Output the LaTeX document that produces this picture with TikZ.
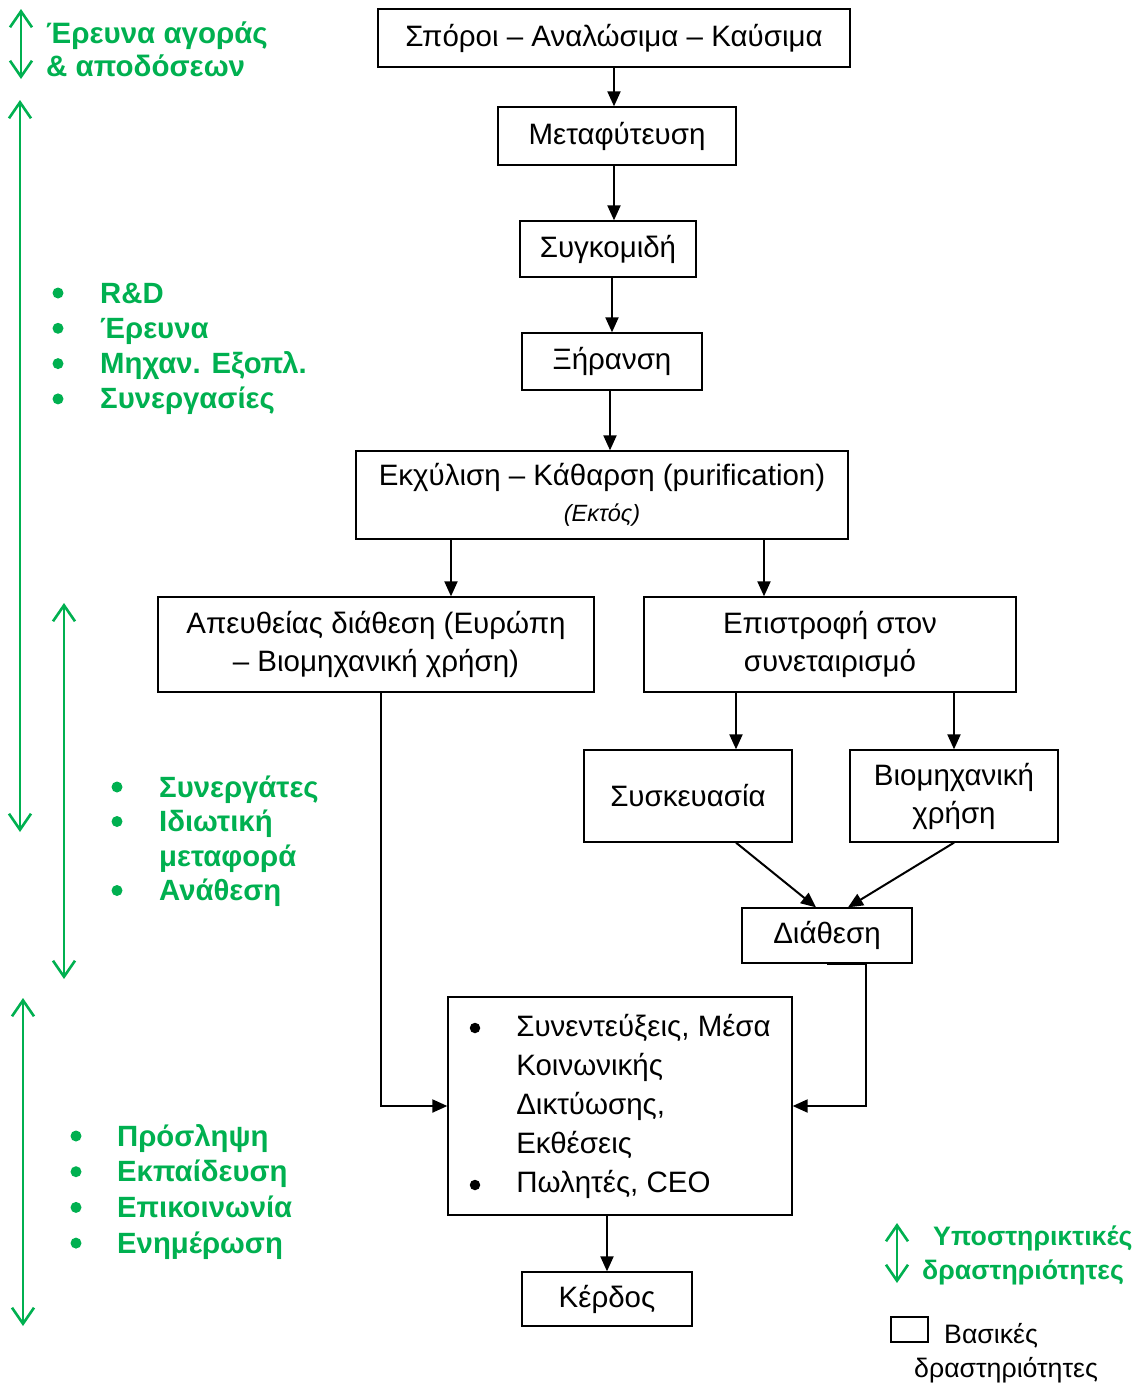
\documentclass[tikz,border=0pt]{standalone}
\usepackage{fontspec}
\setmainfont{Liberation Sans}
\usetikzlibrary{arrows.meta,calc}
\definecolor{grn}{RGB}{0,176,80}
\begin{document}
\begin{tikzpicture}[x=1pt,y=-1pt,
  box/.style={draw, line width=1.3pt, inner sep=0pt, align=center,
              font=\fontsize{29.5}{38}\selectfont},
  arr/.style={line width=2pt, -{Triangle[length=15pt,width=13pt]}},
  garr/.style={draw=grn, line width=2.6pt,
               {Straight Barb[length=16pt,width=22pt]}-{Straight Barb[length=16pt,width=22pt]}},
  gtxt/.style={text=grn, font=\fontsize{29.3}{35}\selectfont\bfseries, anchor=base west, inner sep=0pt},
  gdot/.style={circle, fill=grn, minimum size=11pt, inner sep=0pt},
  kdot/.style={circle, fill=black, minimum size=10.5pt, inner sep=0pt},
  btxt/.style={font=\fontsize{26.7}{35}\selectfont, anchor=base west, inner sep=0pt},
]
\useasboundingbox (0,0) rectangle (1137,1385);

% main chain of activities
\node[box, minimum width=472, minimum height=58] (seeds) at (614,38) {Σπόροι – Αναλώσιμα – Καύσιμα};
\node[box, minimum width=238, minimum height=58] (trans) at (617,136) {Μεταφύτευση};
\node[box, minimum width=176, minimum height=56] (harv) at (608,249) {Συγκομιδή};
\node[box, minimum width=180, minimum height=57] (dry) at (612,361.5) {Ξήρανση};
\node[box, minimum width=492, minimum height=88, font=\fontsize{29.5}{36}\selectfont] (extr) at (602,495)
  {Εκχύλιση – Κάθαρση (purification)\\{\fontsize{23.5}{26}\selectfont\itshape (Εκτός)}};
\node[box, minimum width=436, minimum height=95] (direct) at (376,644.5)
  {Απευθείας διάθεση (Ευρώπη\\– Βιομηχανική χρήση)};
\node[box, minimum width=372, minimum height=95] (ret) at (830,644.5)
  {Επιστροφή στον\\συνεταιρισμό};
\node[box, minimum width=208, minimum height=92] (pack) at (688,796) {Συσκευασία};
\node[box, minimum width=208, minimum height=92] (ind) at (954,796) {Βιομηχανική\\χρήση};
\node[box, minimum width=170, minimum height=55] (disp) at (827,935.5) {Διάθεση};
\node[box, minimum width=344, minimum height=218, align=left, font=\fontsize{29.5}{39}\selectfont] (promo) at (620,1106)
  {\hspace*{47pt}Συνεντεύξεις, Μέσα\\
   \hspace*{47pt}Κοινωνικής\\
   \hspace*{47pt}Δικτύωσης,\\
   \hspace*{47pt}Εκθέσεις\\
   \hspace*{47pt}Πωλητές, CEO};
\node[kdot] (pb1) at (475,1028) {};
\node[kdot] (pb2) at (475,1185) {};
\node[box, minimum width=170, minimum height=54] (profit) at (607,1299) {Κέρδος};

% connectors between activities
\draw[arr] (seeds.south) -- (seeds.south |- trans.north);
\draw[arr] ([xshift=-3pt]trans.south) -- ([xshift=-3pt]trans.south |- harv.north);
\draw[arr] (dry.north |- harv.south) -- (dry.north);
\draw[arr] ([xshift=-2pt]dry.south) -- ([xshift=-2pt]dry.south |- extr.north);
\draw[arr] ([xshift=-151pt]extr.south) -- ([xshift=-151pt]extr.south |- direct.north);
\draw[arr] ([xshift=162pt]extr.south) -- ([xshift=162pt]extr.south |- ret.north);
\draw[arr] ([xshift=-94pt]ret.south) -- ([xshift=-94pt]ret.south |- pack.north);
\draw[arr] (ind.north |- ret.south) -- (ind.north);
\draw[arr] ([xshift=48pt]pack.south) -- ([xshift=-11pt]disp.north);
\draw[arr] (ind.south) -- ([xshift=21pt]disp.north);
\draw[arr] ([xshift=5pt]direct.south) |- (promo.west);
\draw[arr] (disp.south) -- ++(39,0) |- (promo.east);
\draw[arr] ([xshift=-13pt]promo.south) -- ([xshift=-13pt]promo.south |- profit.north);

% support activities (green)
\coordinate (a1t) at (21,9);   \coordinate (a1b) at (21,79);
\coordinate (a2t) at (20,100); \coordinate (a2b) at (20,832);
\coordinate (a3t) at (64,603); \coordinate (a3b) at (64,979);
\coordinate (a4t) at (23,998); \coordinate (a4b) at (23,1326);
\coordinate (a5t) at (897,1223); \coordinate (a5b) at (897,1283);
\draw[garr] (a1t) -- (a1b);
\draw[garr] (a2t) -- (a2b);
\draw[garr] (a3t) -- (a3b);
\draw[garr] (a4t) -- (a4b);
\draw[garr] (a5t) -- (a5b);

\node[gtxt, font=\fontsize{29.5}{33}\selectfont\bfseries] (mr1) at (46,43) {Έρευνα αγοράς};
\node[gtxt, font=\fontsize{29.5}{33}\selectfont\bfseries] (mr2) at (46,76) {\& αποδόσεων};

\foreach \t [count=\i] in {R\&D, Έρευνα, Μηχαν. Εξοπλ., Συνεργασίες} {
  \node[gdot] (d1-\i) at (58,{293+35.3*(\i-1)}) {};
  \node[gtxt] (t1-\i) at (100,{303+35.3*(\i-1)}) {\t};
}

\node[gdot] (d2-1) at (117,787) {};
\node[gtxt] (t2-1) at (159,797) {Συνεργάτες};
\node[gdot] (d2-2) at (117,821.5) {};
\node[gtxt] (t2-2) at (159,831.5) {Ιδιωτική};
\node[gtxt] (t2-3) at (159,866) {μεταφορά};
\node[gdot] (d2-4) at (117,890.5) {};
\node[gtxt] (t2-4) at (159,900.5) {Ανάθεση};

\foreach \t [count=\i] in {Πρόσληψη, Εκπαίδευση, Επικοινωνία, Ενημέρωση} {
  \node[gdot] (d3-\i) at (76,{1136+35.7*(\i-1)}) {};
  \node[gtxt] (t3-\i) at (117,{1146+35.7*(\i-1)}) {\t};
}

% legend
\node[gtxt, font=\fontsize{26.7}{35}\selectfont\bfseries] (lg1) at (933,1245) {Υποστηρικτικές};
\node[gtxt, font=\fontsize{26.7}{35}\selectfont\bfseries] (lg2) at (922,1279) {δραστηριότητες};
\node[draw, line width=1.3pt, minimum width=37, minimum height=25, inner sep=0pt] (key) at (909.5,1329.5) {};
\node[btxt] (lg3) at (944,1343) {Βασικές};
\node[btxt] (lg4) at (914,1377) {δραστηριότητες};
\end{tikzpicture}
\end{document}
